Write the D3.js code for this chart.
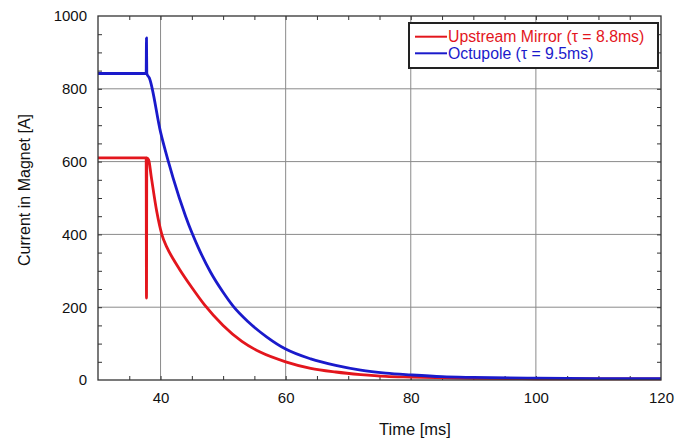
<!DOCTYPE html>
<html>
<head>
<meta charset="utf-8">
<script src="https://cdn.jsdelivr.net/npm/d3@7"></script>
<style>
  body { margin: 0; background: #fff; }
  svg { font-family: 'Liberation Sans', Arial, sans-serif; }
</style>
</head>
<body>
<svg id="main"></svg>
<script>
// values: [time ms, current A]
const mirror = [
  [30, 610], [37.7, 610], [37.75, 225], [37.8, 610], [38.1, 605], [38.5, 560],
  [39.4, 462], [40.2, 400], [41, 365], [42, 333], [43, 305], [45, 254],
  [47, 207], [50, 150], [53, 106], [56, 76], [60, 50], [64, 32], [68, 22],
  [72, 15], [76, 10], [80, 8], [90, 4.5], [100, 3.5], [110, 3], [120, 3]
];
const octupole = [
  [30, 842], [37.7, 842], [37.75, 940], [37.8, 842], [38.2, 830], [40, 681],
  [41.3, 597], [42, 555], [44, 450], [45, 405], [46, 365], [48, 296], [50, 241],
  [51.6, 203], [54, 160], [57, 118], [60, 85], [64, 58], [68, 40], [72, 27],
  [76, 19], [80, 14], [85, 9], [90, 7], [100, 5], [110, 4], [120, 4]
];
const series = [
  { name: 'Upstream Mirror (\u03c4 = 8.8ms)', color: '#e3161d', values: mirror },
  { name: 'Octupole (\u03c4 = 9.5ms)', color: '#1a1acb', values: octupole }
];
const xTicks = [40, 60, 80, 100, 120];
const yTicks = [0, 200, 400, 600, 800, 1000];

const width = 688, height = 442;
const pLeft = 98, pRight = 661, pTop = 16, pBottom = 380;

const svg = d3.select('#main')
  .attr('width', width)
  .attr('height', height);

const x = d3.scaleLinear().domain([30, 120]).range([pLeft, pRight]);
const y = d3.scaleLinear().domain([0, 1000]).range([pBottom, pTop]);

// grid
svg.append('g')
  .selectAll('line')
  .data(xTicks.filter(d => d < 120))
  .enter()
  .append('line')
  .attr('x1', d => x(d)).attr('x2', d => x(d))
  .attr('y1', pTop).attr('y2', pBottom)
  .attr('stroke', '#8a8a8a').attr('stroke-width', 1);

svg.append('g')
  .selectAll('line')
  .data(yTicks.filter(d => d > 0 && d < 1000))
  .enter()
  .append('line')
  .attr('x1', pLeft).attr('x2', pRight)
  .attr('y1', d => y(d)).attr('y2', d => y(d))
  .attr('stroke', '#8a8a8a').attr('stroke-width', 1);

// inward ticks on all four sides
const xMinor = d3.range(35, 120, 5);
const yMinor = d3.range(50, 1000, 50);

const axisStyle = g => {
  g.select('.domain').remove();
  g.selectAll('.tick line').attr('stroke', '#333');
  g.selectAll('text').remove();
};

svg.append('g')
  .attr('transform', `translate(0, ${pBottom})`)
  .call(d3.axisBottom(x).tickValues(xMinor).tickSize(-4))
  .call(axisStyle);
svg.append('g')
  .attr('transform', `translate(0, ${pTop})`)
  .call(d3.axisTop(x).tickValues(xMinor).tickSize(-4))
  .call(axisStyle);
svg.append('g')
  .attr('transform', `translate(${pLeft}, 0)`)
  .call(d3.axisLeft(y).tickValues(yMinor).tickSize(-4))
  .call(axisStyle);
svg.append('g')
  .attr('transform', `translate(${pRight}, 0)`)
  .call(d3.axisRight(y).tickValues(yMinor).tickSize(-4))
  .call(axisStyle);

// tick labels
svg.append('g')
  .attr('transform', `translate(0, ${pBottom})`)
  .call(d3.axisBottom(x).tickValues(xTicks).tickFormat(d3.format('d')).tickSize(0).tickPadding(12))
  .call(g => g.select('.domain').remove())
  .selectAll('text')
  .attr('font-size', 15)
  .attr('font-family', 'Liberation Sans, Arial, sans-serif')
  .attr('fill', '#111');

svg.append('g')
  .attr('transform', `translate(${pLeft}, 0)`)
  .call(d3.axisLeft(y).tickValues(yTicks).tickFormat(d3.format('d')).tickSize(0).tickPadding(11))
  .call(g => g.select('.domain').remove())
  .selectAll('text')
  .attr('font-size', 15)
  .attr('font-family', 'Liberation Sans, Arial, sans-serif')
  .attr('fill', '#111');

// curves
const line = d3.line()
  .x(d => x(d[0]))
  .y(d => y(d[1]))
  .curve(d3.curveMonotoneX);

svg.append('g')
  .selectAll('path')
  .data(series)
  .enter()
  .append('path')
  .attr('d', d => line(d.values))
  .attr('fill', 'none')
  .attr('stroke', d => d.color)
  .attr('stroke-width', 2.8)
  .attr('stroke-linejoin', 'round');

// frame
svg.append('rect')
  .attr('x', pLeft).attr('y', pTop)
  .attr('width', pRight - pLeft).attr('height', pBottom - pTop)
  .attr('fill', 'none')
  .attr('stroke', '#333')
  .attr('stroke-width', 1.3);

// legend
const legend = svg.append('g').attr('transform', 'translate(409, 23)');
legend.append('rect')
  .attr('width', 249).attr('height', 45)
  .attr('fill', '#fff')
  .attr('stroke', '#222')
  .attr('stroke-width', 2);

const item = legend.selectAll('.item')
  .data(series)
  .enter()
  .append('g')
  .attr('class', 'item')
  .attr('transform', (d, i) => `translate(0, ${13.7 + i * 16.6})`);

item.append('line')
  .attr('x1', 6).attr('x2', 38)
  .attr('stroke', d => d.color)
  .attr('stroke-width', 2);

item.append('text')
  .text(d => d.name)
  .attr('x', 39)
  .attr('dy', '0.36em')
  .attr('font-size', 15.8)
  .attr('fill', d => d.color);

// axis titles
svg.append('text')
  .text('Time [ms]')
  .attr('transform', 'translate(415, 435)')
  .attr('text-anchor', 'middle')
  .attr('font-size', 16.5)
  .attr('fill', '#111');

svg.append('text')
  .text('Current in Magnet [A]')
  .attr('transform', 'translate(30, 190) rotate(-90)')
  .attr('text-anchor', 'middle')
  .attr('font-size', 16)
  .attr('fill', '#111');
</script>
</body>
</html>
